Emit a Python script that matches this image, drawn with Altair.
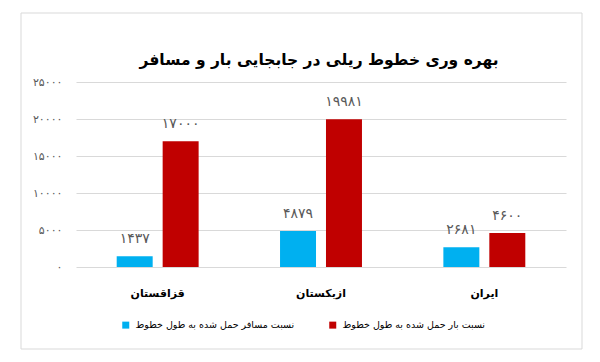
import altair as alt
import pandas as pd

countries = ["قزاقستان", "ازبکستان", "ایران"]
passenger = [1437, 4879, 2681]
cargo = [17000, 19981, 4600]
series_names = ["نسبت مسافر حمل شده به طول خطوط", "نسبت بار حمل شده به طول خطوط"]
series_colors = ["#00B0F0", "#C00000"]
title_text = "بهره وری خطوط ریلی در جابجایی بار و مسافر"
y_ticks = [0, 5000, 10000, 15000, 20000, 25000]

FA = str.maketrans("0123456789", "۰۱۲۳۴۵۶۷۸۹")

rows = []
for c, p, g in zip(countries, passenger, cargo):
    rows.append({"country": c, "series": series_names[0], "value": p, "label": str(p).translate(FA)})
    rows.append({"country": c, "series": series_names[1], "value": g, "label": str(g).translate(FA)})
df = pd.DataFrame(rows)

expr = "format(datum.value, 'd')"
for d, f in zip("0123456789", "۰۱۲۳۴۵۶۷۸۹"):
    expr = f"replace({expr}, regexp('{d}', 'g'), '{f}')"

FONT = "DejaVu Sans"

x = alt.X("country:N", sort=countries, title=None,
          scale=alt.Scale(paddingInner=0.437, paddingOuter=0.2185),
          axis=alt.Axis(labelAngle=0, ticks=False, domain=False, grid=False, labelFontSize=11,
                        labelFontWeight="bold", labelColor="#000000", labelPadding=20,
                        labelFont=FONT))
xo = alt.XOffset("series:N", sort=series_names,
                 scale=alt.Scale(paddingInner=0.217, paddingOuter=0.109))
y = alt.Y("value:Q", title=None,
          scale=alt.Scale(domain=[0, 25000], nice=False),
          axis=alt.Axis(values=y_ticks, labelExpr=expr, ticks=False, domain=False, grid=True,
                        gridColor="#d9d9d9", labelColor="#595959", labelFontSize=11,
                        labelPadding=14, labelFont=FONT, labelOverlap=False))

base = alt.Chart(df)

bars = base.mark_bar().encode(
    x=x, xOffset=xo, y=y,
    color=alt.Color("series:N", sort=series_names,
                    scale=alt.Scale(domain=series_names, range=series_colors),
                    legend=alt.Legend(title=None, orient="none", direction="horizontal",
                                      legendX=45, legendY=238, symbolType="square",
                                      symbolSize=49, symbolStrokeWidth=0, labelFontSize=9.5,
                                      labelColor="#000000", labelFont=FONT, labelOffset=5,
                                      labelLimit=0, columnPadding=33, padding=0)),
)

labels = base.mark_text(dy=-17, baseline="middle", fontSize=14, color="#595959", font=FONT).encode(
    x=x, xOffset=xo, y=y, text="label:N",
)

frame = alt.Chart(alt.Data(values=[{}])).mark_rect(fill=None, stroke="#d9d9d9", strokeWidth=1).encode(
    x=alt.value(-55), x2=alt.value(506), y=alt.value(-69), y2=alt.value(267)
)

title = alt.Chart(alt.Data(values=[{"t": title_text}])).mark_text(
    fontSize=15.5, fontWeight="bold", color="#000000", font=FONT, baseline="middle", align="center"
).encode(x=alt.value(243), y=alt.value(-22), text="t:N")

chart = alt.layer(frame, bars, labels, title).properties(
    width=490, height=185,
    autosize=alt.AutoSizeParams(type="none"),
    padding={"left": 68, "top": 74, "right": 20, "bottom": 85},
).configure_view(stroke=None)

chart.save("out.html", embed_options={"renderer": "svg", "actions": False})
